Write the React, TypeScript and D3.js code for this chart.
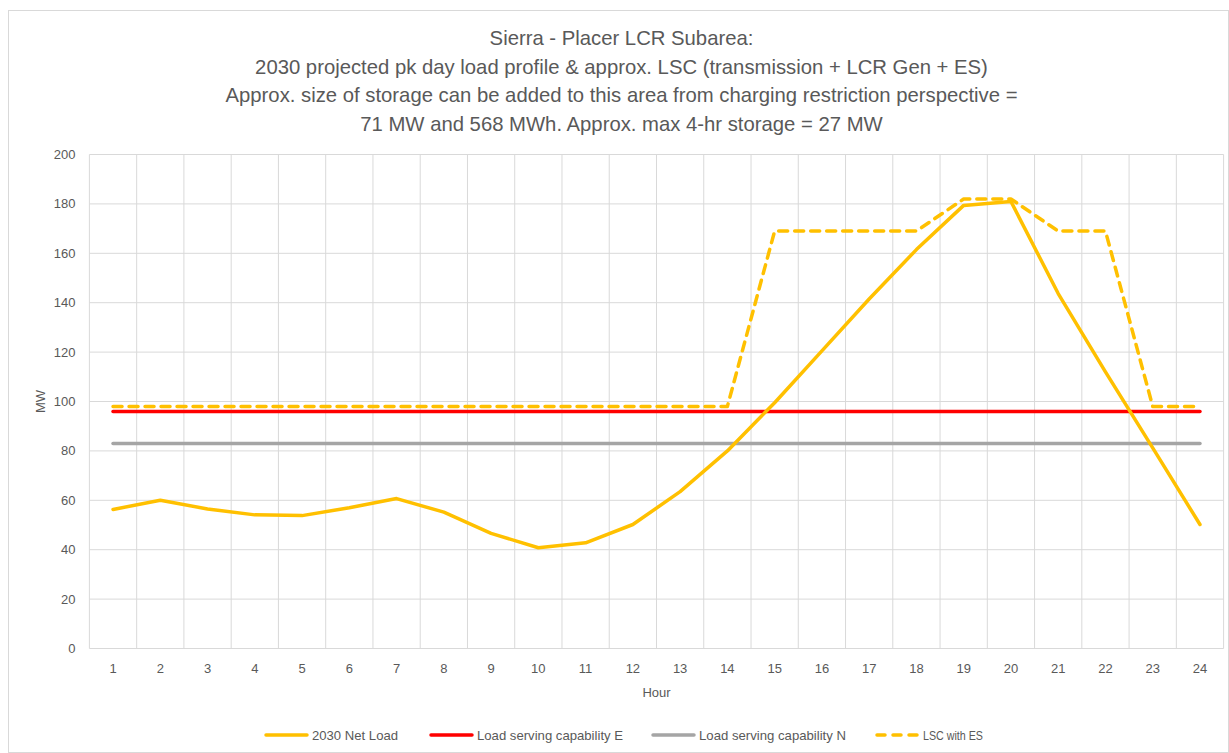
import React, { useEffect, useRef } from 'react'
import * as d3 from 'd3'

const hours = d3.range(1, 25).map(String)
const netLoad = [56.3, 60, 56.5, 54.1, 53.8, 57, 60.7, 55.2, 46.6, 40.8, 42.8, 50.2, 63.5, 80, 99.5, 120.5, 141.5, 161.5, 179.4, 181, 143.7, 112, 81.2, 50.2]
const lscE = Array(24).fill(96)
const lscN = Array(24).fill(83)
const lscWithEs = [98, 98, 98, 98, 98, 98, 98, 98, 98, 98, 98, 98, 98, 98, 169, 169, 169, 169, 182, 182, 169, 169, 98, 98]
const yTicks = [0, 20, 40, 60, 80, 100, 120, 140, 160, 180, 200]
const titleLines = [
  'Sierra - Placer LCR Subarea:',
  '2030 projected pk day load profile & approx. LSC (transmission + LCR Gen + ES)',
  'Approx. size of storage can be added to this area from charging restriction perspective =',
  '71 MW and 568 MWh. Approx. max 4-hr storage = 27 MW',
]
const seriesNames = ['2030 Net Load', 'Load serving capability E', 'Load serving capability N', 'LSC with ES']

const W = 1229
const H = 753
const FONT = "'Liberation Sans', Arial, sans-serif"
const TXT = '#595959'

const App = () => {
  const ref = useRef<SVGSVGElement>(null)

  useEffect(() => {
    const margin = { top: 154.5, right: 5.4, bottom: 104.5, left: 89.4 }
    const svg = d3.select(ref.current)
    svg.selectAll('*').remove()

    // chart frame
    svg.append('rect')
      .attr('x', 8.5).attr('y', 10.5)
      .attr('width', W - 9).attr('height', H - 11)
      .attr('fill', '#fff').attr('stroke', '#d9d9d9')

    const x = d3.scaleBand().domain(hours).range([margin.left, W - margin.right])
    const y = d3.scaleLinear().domain([0, 200]).range([H - margin.bottom, margin.top])
    const cx = (h: string) => (x(h) as number) + x.bandwidth() / 2

    // gridlines
    const g = svg.append('g')
    g.selectAll('.hg').data(yTicks).enter().append('line')
      .attr('x1', margin.left).attr('x2', W - margin.right)
      .attr('y1', d => y(d)).attr('y2', d => y(d))
      .attr('stroke', '#d9d9d9').attr('stroke-width', 1)
    const bounds = hours.map(h => x(h) as number).concat([W - margin.right])
    g.selectAll('.vg').data(bounds).enter().append('line')
      .attr('x1', d => d).attr('x2', d => d)
      .attr('y1', y(0)).attr('y2', y(200))
      .attr('stroke', '#d9d9d9').attr('stroke-width', 1)

    // tick labels
    svg.selectAll('.yt').data(yTicks).enter().append('text')
      .attr('x', margin.left - 14).attr('y', d => y(d) + 4.5)
      .attr('text-anchor', 'end')
      .style('font-family', FONT).style('font-size', '13px').attr('fill', TXT)
      .text(d => d)
    svg.selectAll('.xt').data(hours).enter().append('text')
      .attr('x', d => cx(d)).attr('y', y(0) + 24)
      .attr('text-anchor', 'middle')
      .style('font-family', FONT).style('font-size', '13px').attr('fill', TXT)
      .text(d => d)

    // axis titles
    svg.append('text')
      .attr('transform', `translate(45,${(y(0) + y(200)) / 2}) rotate(-90)`)
      .attr('text-anchor', 'middle')
      .style('font-family', FONT).style('font-size', '13px').attr('fill', TXT)
      .text('MW')
    svg.append('text')
      .attr('x', (margin.left + W - margin.right) / 2).attr('y', y(0) + 48)
      .attr('text-anchor', 'middle')
      .style('font-family', FONT).style('font-size', '13px').attr('fill', TXT)
      .text('Hour')

    // title
    svg.selectAll('.title').data(titleLines).enter().append('text')
      .attr('x', W / 2 + 7).attr('y', (d, i) => 45 + i * 28.5)
      .attr('text-anchor', 'middle')
      .style('font-family', FONT).style('font-size', '20.3px').attr('fill', TXT)
      .text(d => d)

    // lines
    const line = d3.line<number>()
      .x((d, i) => cx(hours[i]))
      .y(d => y(d))

    const series = [
      { values: lscN, color: '#a5a5a5', dash: null },
      { values: lscE, color: '#ff0000', dash: null },
      { values: netLoad, color: '#ffc000', dash: null },
      { values: lscWithEs, color: '#ffc000', dash: '9,7' },
    ]
    series.forEach(s => {
      svg.append('path')
        .datum(s.values)
        .attr('fill', 'none')
        .attr('stroke', s.color)
        .attr('stroke-width', 3.5)
        .attr('stroke-linejoin', 'round')
        .attr('stroke-linecap', 'round')
        .attr('stroke-dasharray', s.dash)
        .attr('d', line)
    })

    // legend
    const legend = [
      { name: seriesNames[0], color: '#ffc000', dash: null, x: 266, w: 86 },
      { name: seriesNames[1], color: '#ff0000', dash: null, x: 431, w: 146 },
      { name: seriesNames[2], color: '#a5a5a5', dash: null, x: 653, w: 147 },
      { name: seriesNames[3], color: '#ffc000', dash: '8,8', x: 877, w: 60 },
    ]
    const ly = 735
    legend.forEach(l => {
      svg.append('line')
        .attr('x1', l.x).attr('x2', l.x + 41)
        .attr('y1', ly).attr('y2', ly)
        .attr('stroke', l.color).attr('stroke-width', 3.5)
        .attr('stroke-linecap', 'round')
        .attr('stroke-dasharray', l.dash)
      svg.append('text')
        .attr('x', l.x + 46).attr('y', ly + 4.5)
        .attr('textLength', l.w).attr('lengthAdjust', 'spacingAndGlyphs')
        .style('font-family', FONT).style('font-size', '13px').attr('fill', TXT)
        .text(l.name)
    })
  }, [])

  return (
    <svg ref={ref} width={W} height={H} style={{ position: 'absolute', left: 0, top: 0, background: '#fff' }} />
  )
}

export default App
